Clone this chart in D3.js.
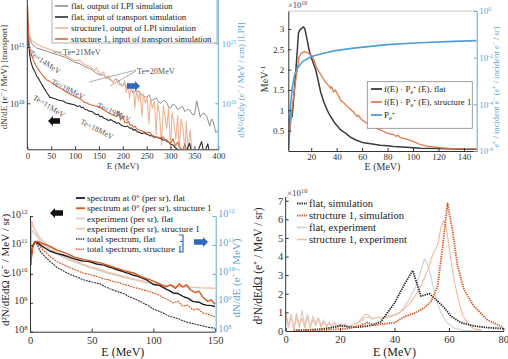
<!DOCTYPE html>
<html><head><meta charset="utf-8">
<script src="https://cdn.jsdelivr.net/npm/d3@7"></script>
<style>body{margin:0;background:#fff} svg{display:block} svg text{font-family:"Liberation Serif","Times New Roman",serif}</style>
</head><body>
<script>
// ================= DATA =================
// Panel A (top-left): energies (MeV) and log10 values
const aTicksX = [0,50,100,150,200,250,300,350,400];
const aTicksY = [1e10,1e15];
const aFlatLpiE   = [0.5,2,5,10,20,33,50,65,82,100,110,120,128,135,143,152,158,165,172,180,185,190,195,200,205,210,216,222,228,235,242,250,255,260,265,270,275,280,286,292,296,300,305,310,315,320,325,330,335,340,345,350,355,362,366,370,376,382,386,389,395,400];
const aFlatLpiExp = [17.1,16.1,15.45,14.95,14.6,14.45,14.2,14.03,13.8,13.4,13.3,13.05,12.95,12.8,12.55,12.35,12.4,12.2,12.0,11.8,12.0,11.95,11.6,11.45,11.6,11.2,11.3,10.85,11.05,10.95,10.6,10.5,10.7,10.2,10.35,10.45,10.1,10.0,10.25,10.05,9.7,9.6,9.95,9.8,9.5,9.6,9.75,9.3,9.5,9.45,9.1,9.05,10.2,8.85,9.1,9.2,8.9,8.1,8.7,8.5,7.55,7.8];
const aStrLpiE   = [0.5,2,5,10,20,33,50,65,82,100,110,120,130,140,145,152,160,165,170,180,185,190,200,204,207,211,214,218,222,225,229,233,236,240,243,247,251,255,258,262,266,270,273,277,281,285,288,292,296,300,303,307,311,315,318,322,326,330,333,337,341,345,350];
const aStrLpiExp = [16.6,16.1,15.6,15.2,14.95,14.7,14.45,14.2,13.95,13.55,13.6,13.2,13.1,12.7,12.95,12.45,12.6,12.05,12.3,11.7,12.1,11.6,11.45,11.9,10.9,11.7,10.4,11.3,11.5,9.6,11.1,10.2,11.0,8.9,10.8,10.0,10.5,8.3,10.4,9.6,10.2,7.4,10.0,9.1,6.5,9.8,9.0,7.9,9.6,6.1,9.2,8.4,7.0,9.0,6.0,8.7,8.0,6.0,8.5,6.0,7.8,6.0,6.0];
const aFlatTrE   = [0.3,1,2,3,5,8,12,15,20,25,30,35,40,47,55,65,75,82,90,100,105,110,114,117,121,125,130,135,140,145,149,152,156,160,165,170,175,180,184,187,191,195,200,205,210,215,219,222,226,230,235,240,245,250,254,257,261,265,270,275,280,285,289,292,296,300,305,310,315,320,330,340,345,355,365,370,378,382];
const aFlatTrExp = [18.7,17.3,16.1,15.2,14.3,13.6,13.1,12.9,12.4,12.1,11.7,11.35,11.0,10.55,10.45,10.3,10.2,10.03,9.95,9.85,9.72,9.78,9.6,9.65,9.45,9.42,9.3,9.28,9.1,8.98,9.02,8.8,8.85,8.68,8.6,8.48,8.55,8.4,8.35,8.22,8.28,8.1,7.98,7.92,7.98,7.78,7.8,7.62,7.66,7.48,7.42,7.3,7.38,7.25,7.2,7.1,7.15,6.98,7.02,6.92,6.88,6.72,6.78,6.62,6.55,6.38,6.3,6.05,5.9,5.7,5.5,6.45,5.5,5.5,6.6,5.5,6.4,5.5];
const aStrTrE   = [0.3,1,2,3,5,8,12,15,20,25,30,35,40,47,55,65,75,82,90,100,105,110,114,117,121,125,130,135,140,145,152,156,160,165,170,175,180,184,187,190,192,195,198,200,204,208,212,215,219,222,226,230,235,240,245,250,254,257,261,265,270,275,280,285,289,292,296,300,305,310,315,320,325,330,335];
const aStrTrExp = [18.7,18.0,16.8,15.8,15.0,14.4,13.9,13.6,13.2,12.9,12.6,12.35,12.1,11.95,11.7,11.45,11.2,11.0,10.8,10.6,10.5,10.42,10.3,10.15,10.08,10.03,9.9,9.85,9.78,9.75,9.65,9.58,9.42,9.3,9.15,9.05,8.95,8.9,8.8,9.15,9.3,8.5,8.75,8.9,8.3,8.25,8.4,8.05,8.1,7.9,7.95,7.7,7.62,7.55,7.48,7.35,7.42,7.4,7.15,7.1,7.05,6.9,6.95,7.0,6.7,6.75,6.55,6.45,6.85,6.2,6.55,6.1,5.8,6.4,5.6];
const aLegend = ["flat, output of LPI simulation","flat, input of transport simulation","structure1, output of LPI simulation","structure 1, input of transport simulation"];

// Panel B (top-right)
const bTicksX = [20,40,60,80,100,120,140];
const bTicksY = [0.5,1,1.5,2,2.5,3];
const bTicksR = [1e-6,1e-4,1e-2,1];
const bFlatE = [2,3,5,6,8,10,11,13,14,15,17,18.2,20,23.5,25,27.4,30,32.6,35,37.8,40,43,46,50.8,55,61.3,68,74.3,80,84.7,95,105.6,120,131.7,150];
const bFlatV = [0.75,0.78,0.85,1.2,2.0,2.9,2.97,3.03,3.05,3.0,2.7,2.5,2.3,2.0,1.8,1.45,1.2,1.0,0.86,0.72,0.63,0.52,0.46,0.34,0.27,0.2,0.17,0.14,0.13,0.11,0.09,0.07,0.06,0.05,0.04];
const bStrE = [2,3,5.2,8.1,10.4,12,14.4,17,19.7,22,23.6,26,28,30,32,34,35.2,36,37.5,39,41,43,45,48.2,51,53.4,56,57,58.7,61,63.9,66,69,72,74.3,77,79.5,82,84.7,87,88,90,95,100.4,105.6,110.8,116,121,131.7,150];
const bStrV = [0,0.4,1.1,1.8,2.3,2.4,2.44,2.42,2.36,2.25,2.1,1.95,1.85,1.75,1.66,1.6,1.54,1.58,1.45,1.5,1.38,1.25,1.2,1.1,1.02,0.95,0.85,0.88,0.8,0.74,0.68,0.65,0.6,0.55,0.52,0.48,0.44,0.42,0.4,0.36,0.39,0.33,0.29,0.23,0.16,0.12,0.1,0.08,0.06,0.05];
const bPE = [2,2.8,3.9,5.2,6.6,9.1,13.1,19.7,27.4,37.8,53.4,79.5,105.6,131.7,150];
const bPExp = [-5.96,-5.1,-3.96,-3.24,-2.82,-2.46,-2.17,-1.96,-1.84,-1.71,-1.59,-1.44,-1.36,-1.3,-1.27];

// Panel C (bottom-left)
const cTicksX = [0,50,100,150];
const cTicksY = [1e8,1e9,1e10,1e11,1e12];
const cExpStrE = [0.5,1.5,3,5,8,12,16,20,25,30,35,43,50,57,63,70,77,84,90,97,104,111,118,124,131,138,145,150];
const cExpStrExp = [11.0,11.83,11.6,11.45,11.25,11.08,10.92,10.8,10.68,10.57,10.47,10.33,10.23,10.15,10.06,9.98,9.9,9.82,9.76,9.7,9.64,9.6,9.57,9.55,9.54,9.52,9.51,9.5];
const cExpFlatE = [0.5,1.5,3,5,8,12,16,20,25,30,35,43,50,57,63,70,77,84,90,97,104,110];
const cExpFlatExp = [10.9,11.5,11.45,11.35,11.15,10.98,10.85,10.74,10.62,10.52,10.43,10.3,10.2,10.1,10.02,9.95,9.87,9.8,9.74,9.68,9.62,9.58];
const cSpFlatE = [0.5,2,4,6,10,16,22,26,30,33,36,40,43,47,50,54,57,60,63,67,70,74,77,81,84,87,90,95,100,105,110,113,116,120,125,128,132,137,140,143,147,150];
const cSpFlatExp = [10.5,10.95,11.12,11.08,10.95,10.79,10.7,10.66,10.61,10.56,10.52,10.47,10.44,10.43,10.4,10.34,10.32,10.3,10.25,10.2,10.15,10.1,10.05,10.0,9.95,9.92,9.87,9.78,9.63,9.6,9.48,9.42,9.34,9.32,9.2,9.16,9.05,9.02,8.95,8.92,8.9,8.87];
const cSpStrE = [0.5,2,4,6,10,16,22,30,36,43,50,57,63,70,77,84,90,97,103,110,114,118,121,124,127,130,134,137,140,144,147,150];
const cSpStrExp = [10.3,10.9,11.1,11.12,11.05,10.96,10.82,10.7,10.58,10.5,10.44,10.38,10.3,10.2,10.1,10.03,9.9,9.8,9.7,9.55,9.62,9.5,9.65,9.55,9.62,9.45,9.35,9.4,9.2,9.05,9.1,8.95];
const cTotStrE = [0.5,2,4,6,10,16,22,30,36,43,51,55,60,64,68,72,76,80,84,88,92,96,100,104,108,112,116,120,124,128,132,136,140,145,150];
const cTotStrExp = [10.3,10.95,11.1,11.05,10.85,10.61,10.42,10.26,10.15,10.03,9.95,9.9,9.82,9.8,9.72,9.7,9.63,9.6,9.53,9.5,9.44,9.4,9.34,9.28,9.18,9.1,9.0,9.05,8.88,8.92,8.76,8.8,8.65,8.6,8.52];
const cTotFlatE = [0.5,2,4,6,8,12,16,22,30,36,43,50,57,61,65,70,73,76,80,84,88,92,96,100,104,108,112,116,120,124,128,132,136,140,145,150];
const cTotFlatExp = [10.3,10.9,11.1,11.0,10.8,10.6,10.44,10.22,10.03,9.92,9.8,9.72,9.65,9.55,9.48,9.4,9.36,9.32,9.22,9.15,9.08,8.98,8.9,8.78,8.72,8.65,8.55,8.5,8.45,8.38,8.32,8.28,8.24,8.2,8.15,8.12];
const cLegend = ["spectrum at 0° (per sr), flat","spectrum at 0° (per sr), structure 1","experiment (per sr), flat","experiment (per sr), structure 1","total spectrum, flat","total spectrum, structure 1"];

// Panel D (bottom-right), values in units of 1e10
const dTicksX = [0,20,40,60,80];
const dTicksY = [0,1,2,3,4,5,6,7];
const dSimFlatE = [3,12.9,17.8,20.3,24,27.7,31.4,35,37.5,40,43.6,46.7,49.7,52.8,55.2,58.3,60.7,64.4,69.3,74.2,80];
const dSimFlatV = [0.02,0.1,0.2,0.3,0.2,0.22,0.3,0.5,1.0,1.5,2.5,3.25,1.88,2.0,1.7,1.25,0.8,0.45,0.27,0.18,0.13];
const dSimStrE = [3,12.9,22.6,27.7,30.1,32.6,35,40,43.6,47.3,51,53.4,55.8,57.7,59.5,61.3,63.1,65.6,69.3,74.2,80];
const dSimStrV = [0.02,0.05,0.12,0.3,0.45,0.3,0.37,0.45,0.77,0.95,1.25,1.58,2.38,4.53,6.85,5.43,3.55,2.2,1.31,0.59,0.2];
const dExpE = [0,1,2,3,4,5,6,7,8,9,10,11,12,13,14,15,16,17,18,19,20,21,22,23,24,25,26,27,28,29,30,31,32,33,34,35,36,37,38,39,40,41,42,43,44,45,46,47,48,49,50,51,52,53,54,55,56,57,58,59,60,61,62,63,64,65,66,67,68,69,70,72];
const dExpFlatV = [1.0,0.3,0.9,0.1,0.7,0.2,1.1,0.3,0.9,0.2,0.8,0.4,0.7,0.3,0.6,0.2,0.5,0.3,0.5,0.2,0.4,0.3,0.4,0.2,0.3,0.35,0.4,0.5,0.55,0.7,0.75,0.7,0.65,0.7,0.75,0.7,0.75,0.8,0.8,0.85,0.9,0.95,1.0,1.2,1.4,1.6,1.9,2.1,2.5,2.9,3.4,3.88,3.6,3.2,2.5,1.9,1.4,1.0,0.75,0.5,0.35,0.25,0.15,0.12,0.1,0.05,0.03,0.02,0.02,0.01,0.01,0.01];
const dExpStrV = [0.9,0.2,0.8,0.1,0.95,0.3,0.7,0.15,0.8,0.2,0.6,0.3,0.7,0.2,0.5,0.3,0.4,0.2,0.35,0.25,0.3,0.2,0.25,0.2,0.3,0.35,0.4,0.5,0.7,0.85,0.9,0.75,0.65,0.7,0.75,0.7,0.7,0.75,0.75,0.8,0.85,0.9,1.0,1.1,1.25,1.4,1.55,1.75,2.0,2.25,2.5,2.85,3.2,3.6,4.1,4.35,4.7,5.5,5.95,5.6,4.6,3.6,2.7,2.0,1.4,0.9,0.6,0.4,0.25,0.15,0.1,0.05];
const dLegend = ["flat, simulation","structure 1, simulation","flat, experiment","structure 1, experiment"];

// ================= DRAWING =================
const FONT = '"Liberation Serif","Times New Roman",serif';
const C_DARK = '#2a2a2a', C_GRAY = '#8e8e8e', C_OR = '#d9541a', C_LOR = '#efb496',
      C_LGRAY = '#cdcdcd', C_BLUE = '#4f9ed6', C_AX2 = '#5fa6d6', C_ARROW = '#3068c0';

const svg = d3.select('body').append('svg').attr('width',508).attr('height',359)
  .attr('font-family', FONT);
svg.append('rect').attr('width',508).attr('height',359).attr('fill','#fff');
const defs = svg.append('defs');

function clip(id,x,y,w,h){ defs.append('clipPath').attr('id',id).append('rect').attr('x',x).attr('y',y).attr('width',w).attr('height',h); return `url(#${id})`; }
const toPts = (E,V,exp) => E.map((e,i)=>({x:e, y: exp ? Math.pow(10,V[i]) : V[i]}));
function line(g,data,xs,ys,c,w,dash,cp){
  g.append('path').datum(data).attr('fill','none').attr('stroke',c).attr('stroke-width',w)
   .attr('stroke-linejoin','round').attr('stroke-dasharray',dash||null).attr('clip-path',cp)
   .attr('d', d3.line().x(d=>xs(d.x)).y(d=>ys(d.y)));
}
function styleAx(sel,color,fs){
  sel.attr('font-family',FONT).attr('font-size',fs);
  sel.select('.domain').attr('stroke',color);
  sel.selectAll('.tick line').attr('stroke',color);
  sel.selectAll('.tick text').attr('fill',color);
}
function supLabels(sel){
  sel.selectAll('.tick text').each(function(d){
    const t=d3.select(this); const ex=Math.round(Math.log10(d));
    t.text(null); t.append('tspan').text('10');
    t.append('tspan').attr('dy','-0.5em').attr('font-size','0.65em').text(ex);
  });
}
function arrow(g,x0,x1,yc,dir,color){
  const hl=5, bh=2.8, hh=5;
  let pts;
  if(dir<0) pts=[[x0,yc],[x0+hl,yc-hh],[x0+hl,yc-bh],[x1,yc-bh],[x1,yc+bh],[x0+hl,yc+bh],[x0+hl,yc+hh]];
  else pts=[[x1,yc],[x1-hl,yc-hh],[x1-hl,yc-bh],[x0,yc-bh],[x0,yc+bh],[x1-hl,yc+bh],[x1-hl,yc+hh]];
  g.append('polygon').attr('points',pts.map(p=>p.join(',')).join(' ')).attr('fill',color);
}
function vlabel(g,x,y,txt,fs,color){
  g.append('text').attr('transform',`translate(${x},${y}) rotate(-90)`).attr('text-anchor','middle')
   .attr('font-size',fs).attr('fill',color).text(txt);
}

// ---------- Panel A ----------
{
  const g = svg.append('g');
  const L=27.3,R=218.3,T=0,B=149.3;
  const x = d3.scaleLinear().domain([0,400]).range([L,R]);
  const yL = d3.scaleLog().domain([1e10,1e15]).range([103.3,47]);
  const yR = d3.scaleLog().domain([1e10,1e15]).range([103.3,43.3]);
  const cp = clip('cpA',L,T,R-L,B-T);
  line(g,toPts(aFlatLpiE,aFlatLpiExp,true),x,yR,C_GRAY,1,null,cp);
  line(g,toPts(aStrLpiE,aStrLpiExp,true),x,yR,C_LOR,1.1,null,cp);
  line(g,toPts(aFlatTrE,aFlatTrExp,true),x,yL,C_DARK,1.1,null,cp);
  line(g,toPts(aStrTrE,aStrTrExp,true),x,yL,'#d8693a',1.1,null,cp);
  const ax = g.append('g').attr('transform',`translate(0,${B})`)
    .call(d3.axisBottom(x).tickValues(aTicksX).tickSize(-3).tickSizeOuter(0).tickPadding(3.5));
  styleAx(ax,'#333',8.7);
  const ayl = g.append('g').attr('transform',`translate(${L},0)`)
    .call(d3.axisLeft(yL).tickValues(aTicksY).tickSize(-3).tickSizeOuter(0).tickPadding(3));
  styleAx(ayl,'#333',8.7); supLabels(ayl);
  ayl.select('.domain').attr('d',`M0,${T}V${B}`);
  const ayr = g.append('g').attr('transform',`translate(${R},0)`)
    .call(d3.axisRight(yR).tickValues(aTicksY).tickSize(-3).tickSizeOuter(0).tickPadding(3.5));
  styleAx(ayr,C_AX2,8.7); supLabels(ayr);
  ayr.select('.domain').attr('d',`M0,${T}V${B}`);
  g.append('text').attr('x',(L+R)/2).attr('y',169).attr('text-anchor','middle').attr('font-size',9).attr('fill','#333').text('E (MeV)');
  vlabel(g,7,77,'dN/dE (e⁻ / MeV) [transport]',9,'#333');
  vlabel(g,244,80,'dN²/dEdy (e⁻ / MeV / cm) [LPI]',9,C_AX2);
  // legend
  g.append('rect').attr('x',52).attr('y',-1).attr('width',165).attr('height',44).attr('fill','#fff').attr('stroke','#999').attr('stroke-width',0.8);
  const lc=[C_GRAY,C_DARK,C_LOR,'#d8693a'];
  aLegend.forEach((t,i)=>{
    const yy=6+i*11;
    g.append('line').attr('x1',55).attr('x2',68).attr('y1',yy).attr('y2',yy).attr('stroke',lc[i]).attr('stroke-width',1.6);
    g.append('text').attr('x',71).attr('y',yy+3).attr('font-size',8.7).attr('fill','#222').text(t);
  });
  // annotations
  const ann=[['Te=14MeV',45,62,34],['Te=18MeV',68,89,27],['Te=11MeV',49,106,32],['Te=19MeV',114,112,25],['Te=18MeV',97,129,27]];
  ann.forEach(a=>g.append('text').attr('transform',`translate(${a[1]},${a[2]}) rotate(${a[3]})`).attr('text-anchor','middle')
    .attr('dy','0.35em').attr('font-size',7.8).attr('fill','#555').text(a[0]));
  g.append('line').attr('x1',53).attr('x2',62).attr('y1',52).attr('y2',52).attr('stroke','#888').attr('stroke-width',0.8);
  g.append('text').attr('x',63).attr('y',55).attr('font-size',8.2).attr('fill','#555').text('Te=21MeV');
  g.append('line').attr('x1',136).attr('y1',70).attr('x2',89).attr('y2',82).attr('stroke','#999').attr('stroke-width',0.8);
  g.append('line').attr('x1',136).attr('y1',71).attr('x2',110).attr('y2',86).attr('stroke','#999').attr('stroke-width',0.8);
  g.append('text').attr('x',137).attr('y',74).attr('font-size',8.2).attr('fill','#555').text('Te=20MeV');
  arrow(g,48,60,121,-1,'#111');
  arrow(g,127,140,86,1,C_ARROW);
}

// ---------- Panel B ----------
{
  const g = svg.append('g');
  const L=288.3,R=476.7,T=11,B=151;
  const x = d3.scaleLinear().domain([2,150]).range([L,R]);
  const yL = d3.scaleLinear().domain([0,3.44]).range([B,T]);
  const yR = d3.scaleLog().domain([1e-6,1]).range([B,T]);
  const cp = clip('cpB',L,T,R-L,B-T+1.5);
  line(g,toPts(bFlatE,bFlatV,false),x,yL,'#3a3a3a',1.5,null,cp);
  line(g,toPts(bStrE,bStrV,false),x,yL,'#e07b4f',1.3,null,cp);
  line(g,toPts(bPE,bPExp,true),x,yR,C_BLUE,1.6,null,cp);
  g.append('line').attr('x1',L).attr('x2',R).attr('y1',T).attr('y2',T).attr('stroke','#bbb').attr('stroke-width',0.8);
  const ax = g.append('g').attr('transform',`translate(0,${B})`)
    .call(d3.axisBottom(x).tickValues(bTicksX).tickSize(-3).tickSizeOuter(0).tickPadding(3));
  styleAx(ax,'#333',9);
  const ayl = g.append('g').attr('transform',`translate(${L},0)`)
    .call(d3.axisLeft(yL).tickValues(bTicksY).tickFormat(d3.format('')).tickSize(-3).tickSizeOuter(0).tickPadding(4));
  styleAx(ayl,'#333',9);
  const ayr = g.append('g').attr('transform',`translate(${R},0)`)
    .call(d3.axisRight(yR).tickValues(bTicksR).tickSize(-3).tickSizeOuter(0).tickPadding(2.5));
  styleAx(ayr,C_AX2,9); supLabels(ayr);
  const tx = g.append('text').attr('x',288).attr('y',8).attr('font-size',8.5).attr('fill','#444');
  tx.append('tspan').text('×10'); tx.append('tspan').attr('dy','-0.45em').attr('font-size','0.7em').text('10');
  g.append('text').attr('x',(L+R)/2).attr('y',170).attr('text-anchor','middle').attr('font-size',10).attr('fill','#333').text('E (MeV)');
  const yl = g.append('text').attr('transform','translate(268,79) rotate(-90)').attr('text-anchor','middle').attr('font-size',10).attr('fill','#333');
  yl.append('tspan').text('MeV'); yl.append('tspan').attr('dy','-0.4em').attr('font-size','0.7em').text('-1');
  vlabel(g,499,87,'e⁺ / incident e⁻ (e⁺ / incident e⁻ / sr)',8.6,C_AX2);
  // legend
  g.append('rect').attr('x',367.3).attr('y',81.7).attr('width',105).attr('height',46.6).attr('fill','#fff').attr('stroke','#888').attr('stroke-width',0.8);
  const items=[['#3a3a3a',', flat'],['#e07b4f',', structure 1'],[C_BLUE,null]];
  items.forEach((it,i)=>{
    const yy=89+i*13;
    g.append('line').attr('x1',371).attr('x2',382).attr('y1',yy).attr('y2',yy).attr('stroke',it[0]).attr('stroke-width',1.8);
    const t=g.append('text').attr('x',384).attr('y',yy+3).attr('font-size',8.8).attr('fill','#222');
    if(it[1]!==null) t.append('tspan').text('f(E) · P');
    else t.append('tspan').text('P');
    t.append('tspan').attr('dy',2).attr('font-size','0.7em').text('e');
    t.append('tspan').attr('dy',-4).attr('font-size','0.6em').text('+');
    if(it[1]!==null) t.append('tspan').attr('dy',2).text(' (E)'+it[1]);
  });
}

// ---------- Panel C ----------
{
  const g = svg.append('g');
  const L=30,R=215.7,T=216,B=331.7;
  const x = d3.scaleLinear().domain([0,150]).range([L,R-0.7]);
  const y = d3.scaleLog().domain([1e8,1e12]).range([B,T]);
  const cp = clip('cpC',L,T-5,R-L,B-T+5);
  line(g,toPts(cExpFlatE,cExpFlatExp,true),x,y,C_LGRAY,1.4,null,cp);
  line(g,toPts(cExpStrE,cExpStrExp,true),x,y,'#f3c2a8',1.4,null,cp);
  line(g,toPts(cTotFlatE,cTotFlatExp,true),x,y,'#333',1.1,'2,0.8',cp);
  line(g,toPts(cTotStrE,cTotStrExp,true),x,y,C_OR,1.1,'2,0.8',cp);
  line(g,toPts(cSpFlatE,cSpFlatExp,true),x,y,'#1e1e1e',1.4,null,cp);
  line(g,toPts(cSpStrE,cSpStrExp,true),x,y,C_OR,1.4,null,cp);
  const ax = g.append('g').attr('transform',`translate(0,${B})`)
    .call(d3.axisBottom(x).tickValues(cTicksX).tickSize(-3).tickSizeOuter(0).tickPadding(5));
  styleAx(ax,'#333',10.5);
  const ayl = g.append('g').attr('transform',`translate(${L},0)`)
    .call(d3.axisLeft(y).tickValues(cTicksY).tickSize(-3).tickSizeOuter(0).tickPadding(2.5));
  styleAx(ayl,'#333',10); supLabels(ayl);
  ayl.selectAll('.tick text').attr('transform','translate(0,-2)');
  const ayr = g.append('g').attr('transform',`translate(${R},0)`)
    .call(d3.axisRight(y).tickValues(cTicksY).tickSize(-3).tickSizeOuter(0).tickPadding(2.5));
  styleAx(ayr,C_AX2,10); supLabels(ayr);
  ayr.selectAll('.tick text').attr('transform','translate(0,-3)');
  g.append('text').attr('x',(L+R)/2).attr('y',356).attr('text-anchor','middle').attr('font-size',12).attr('fill','#222').text('E (MeV)');
  vlabel(g,9,270,'d²N/dEdΩ (e⁻ / MeV / sr)',11,'#222');
  vlabel(g,240,278,'dN/dE (e⁻ / MeV)',11,C_AX2);
  // legend
  const st=[['#1e1e1e',1.8,null],[C_OR,1.8,null],[C_LGRAY,1.6,null],['#f3c2a8',1.6,null],['#222',1.6,'1.3,1'],[C_OR,1.6,'1.3,1']];
  cLegend.forEach((t,i)=>{
    const yy=198+i*10.25;
    g.append('line').attr('x1',76).attr('x2',85).attr('y1',yy).attr('y2',yy).attr('stroke',st[i][0]).attr('stroke-width',st[i][1]).attr('stroke-dasharray',st[i][2]);
    g.append('text').attr('x',87).attr('y',yy+3).attr('font-size',9.1).attr('fill','#222').text(t);
  });
  g.append('path').attr('d','M179,235H183V252H179M183,241.5H180').attr('fill','none').attr('stroke',C_ARROW).attr('stroke-width',1.2);
  arrow(g,194,208,242,1,C_ARROW);
  arrow(g,50,63,213,-1,'#111');
}

// ---------- Panel D ----------
{
  const g = svg.append('g');
  const L=285.7,R=503.3,T=197,B=331;
  const x = d3.scaleLinear().domain([0,80]).range([L,R]);
  const y = d3.scaleLinear().domain([0,7.2]).range([B,T]);
  const cp = clip('cpD',L,T-5,508-L,B-T+5);
  line(g,toPts(dExpE,dExpFlatV,false),x,y,'#d2d2d2',1.2,null,cp);
  line(g,toPts(dExpE,dExpStrV,false),x,y,'#f4bea3',1.2,null,cp);
  line(g,toPts(dSimFlatE,dSimFlatV,false),x,y,'#222',1.8,'1.3,1',cp);
  line(g,toPts(dSimStrE,dSimStrV,false),x,y,C_OR,1.8,'1.3,1',cp);
  const ax = g.append('g').attr('transform',`translate(0,${B})`)
    .call(d3.axisBottom(x).tickValues(dTicksX).tickSize(-3).tickSizeOuter(0).tickPadding(5));
  styleAx(ax,'#333',10.5);
  const ayl = g.append('g').attr('transform',`translate(${L},0)`)
    .call(d3.axisLeft(y).tickValues(dTicksY).tickSize(-3).tickSizeOuter(0).tickPadding(2.5));
  styleAx(ayl,'#333',10.5);
  ayl.select('.domain').attr('d',`M0,${T}V${B}`);
  const tx = g.append('text').attr('x',287).attr('y',196).attr('font-size',9).attr('fill','#444');
  tx.append('tspan').text('×10'); tx.append('tspan').attr('dy','-0.45em').attr('font-size','0.7em').text('10');
  g.append('text').attr('x',(L+R)/2).attr('y',356).attr('text-anchor','middle').attr('font-size',12).attr('fill','#222').text('E (MeV)');
  vlabel(g,262,266,'d²N/dEdΩ (e⁺ / MeV / sr)',11.5,'#222');
  const st=[['#222',2,'1.3,1'],[C_OR,2,'1.3,1'],['#cfcfcf',1.6,null],['#f4bea3',1.6,null]];
  dLegend.forEach((t,i)=>{
    const yy=203.5+i*12;
    g.append('line').attr('x1',297).attr('x2',307).attr('y1',yy).attr('y2',yy).attr('stroke',st[i][0]).attr('stroke-width',st[i][1]).attr('stroke-dasharray',st[i][2]);
    g.append('text').attr('x',309).attr('y',yy+3.5).attr('font-size',10.6).attr('fill','#222').text(t);
  });
}
</script>
</body></html>
